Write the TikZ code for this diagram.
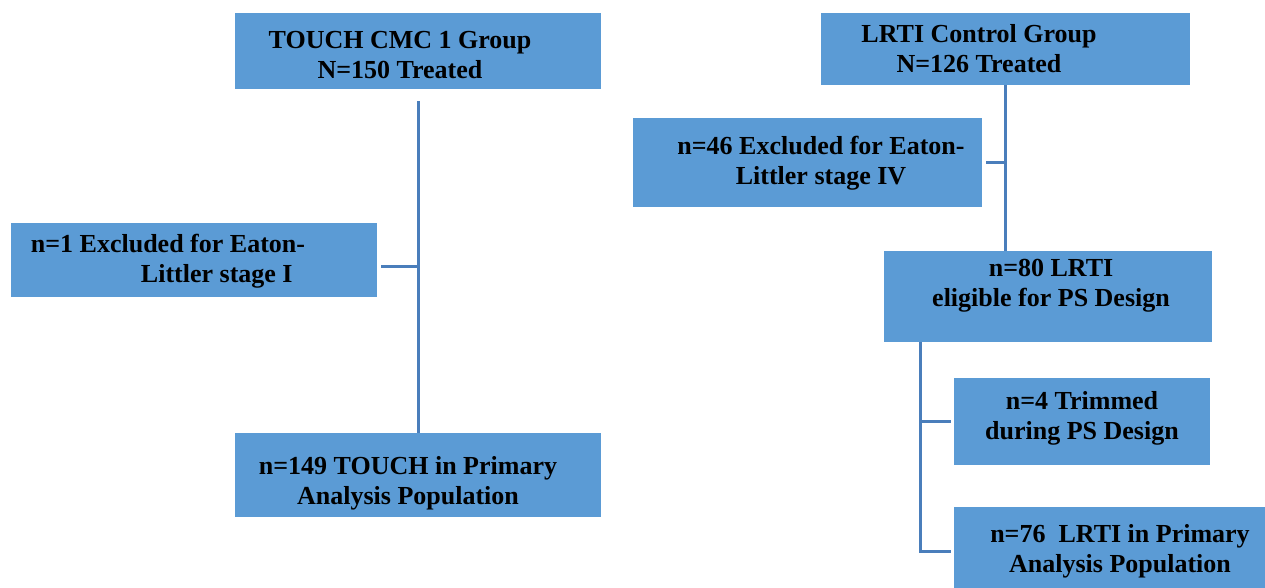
\documentclass[tikz,border=0pt]{standalone}
\usepackage{fontspec}
\setmainfont{Liberation Serif}
\definecolor{boxblue}{HTML}{5B9BD5}
\definecolor{lineblue}{HTML}{4A7EBB}
\begin{document}
\begin{tikzpicture}[x=1pt,y=-1pt,
 box/.style={fill=boxblue, draw=none, inner sep=0, anchor=north west},
 txt/.style={font=\fontsize{26}{30}\selectfont\bfseries, align=center, inner sep=0},
 conn/.style={draw=lineblue, line width=3pt}]
\useasboundingbox (0,0) rectangle (1265,588);
% boxes
\node[box, minimum width=366, minimum height=76] (A) at (235,13) {};
\node[box, minimum width=366, minimum height=74] (B) at (11,223) {};
\node[box, minimum width=366, minimum height=84] (C) at (235,433) {};
\node[box, minimum width=369, minimum height=72] (D) at (821,13) {};
\node[box, minimum width=349, minimum height=89] (E) at (633,118) {};
\node[box, minimum width=328, minimum height=91] (F) at (884,251) {};
\node[box, minimum width=256, minimum height=87] (G) at (954,378) {};
\node[box, minimum width=320, minimum height=90] (H) at (954,507) {};
% texts
\node[txt] (tA) at (400,55) {TOUCH CMC 1 Group\\N=150 Treated};
\node[txt, align=left] (tB) at (168,261) {n=1 Excluded for Eaton-\\\hspace*{110pt}Littler stage I};
\node[txt] (tC) at (408,483) {n=149 TOUCH in Primary\\Analysis Population};
\node[txt] (tD) at (979,49) {LRTI Control Group\\N=126 Treated};
\node[txt] (tE) at (821,163) {n=46 Excluded for Eaton-\\Littler stage IV};
\node[txt] (tF) at (1051,286) {n=80 LRTI\\eligible for PS Design};
\node[txt] (tG) at (1082,418) {n=4 Trimmed\\during PS Design};
\node[txt] (tH) at (1120,551) {n=76\ \ LRTI in Primary\\Analysis Population};
% connector coordinates
\coordinate (jL) at (418,266);
\coordinate (jR) at (1005,163);
\coordinate (vF) at (920,0);
\coordinate (jG) at (920,421);
\coordinate (hH) at (0,551);
% connectors
\draw[conn] ([yshift=-12pt]A.south) -- (C.north);
\draw[conn] ([xshift=4pt]B.east |- jL) -- (jL);
\draw[conn] (D.south) -- (D.south |- F.north);
\draw[conn] ([xshift=4pt]E.east |- jR) -- (jR);
\draw[conn] (F.south -| vF) |- ([xshift=-3pt]H.west |- hH);
\draw[conn] (jG) -- ([xshift=-3pt]G.west |- jG);
\end{tikzpicture}
\end{document}
